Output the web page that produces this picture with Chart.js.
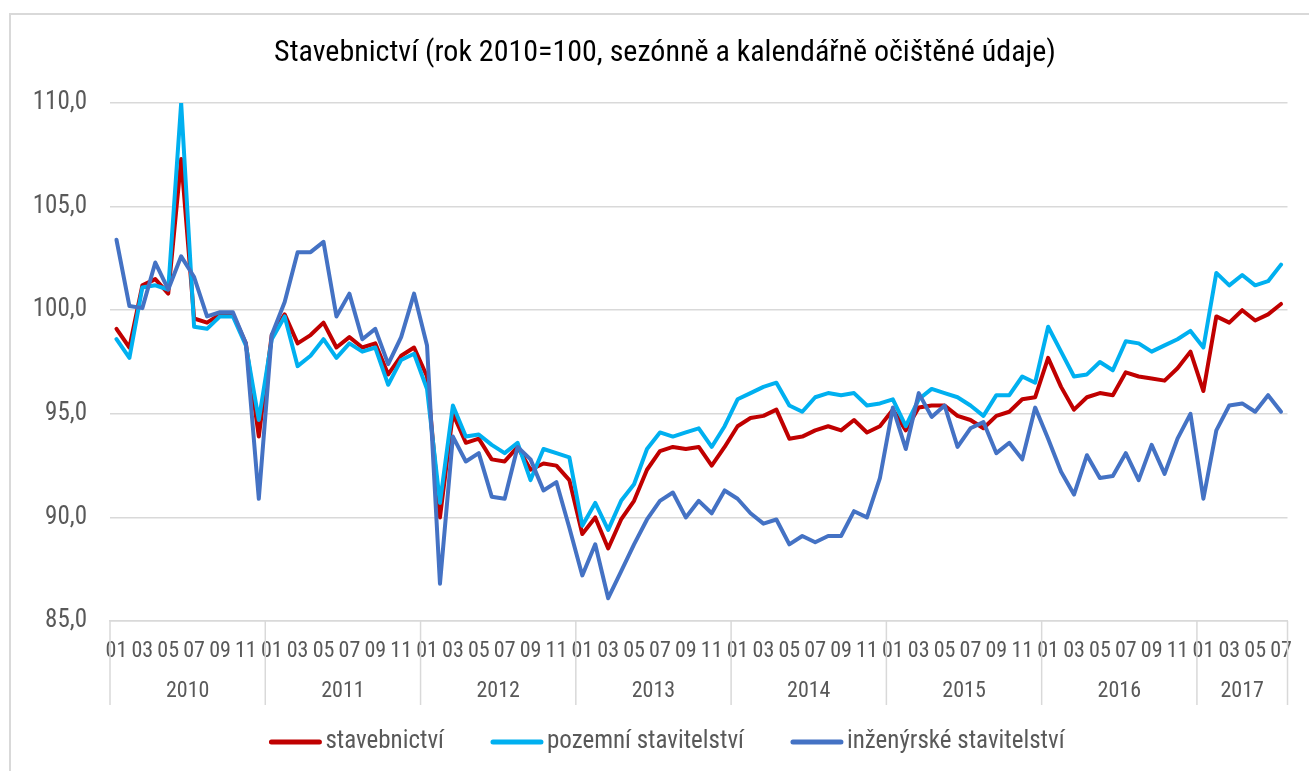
<!DOCTYPE html>
<html><head><meta charset="utf-8">
<script src="https://cdn.jsdelivr.net/npm/chart.js@4.4.1/dist/chart.umd.min.js"></script>
<style>
html,body{margin:0;padding:0;background:#fff;}
#wrap{position:relative;width:1309px;height:771px;overflow:hidden;}
#frame{position:absolute;left:9px;top:13px;width:1340px;height:820px;border:2px solid #D9D9D9;box-sizing:border-box;}
canvas{position:absolute;left:0;top:0;}
</style></head><body>
<div id="wrap"><div id="frame"></div><canvas id="c" width="1309" height="771"></canvas></div>
<script>
const titleText = 'Stavebnictví (rok 2010=100, sezónně a kalendářně očištěné údaje)';
const years = ['2010', '2011', '2012', '2013', '2014', '2015', '2016', '2017'];
const monthNames = ['01', '02', '03', '04', '05', '06', '07', '08', '09', '10', '11', '12'];
const seriesNames = ['stavebnictví', 'pozemní stavitelství', 'inženýrské stavitelství'];
const yTicks = [85, 90, 95, 100, 105, 110];

const stavebnictvi = [
  99.1, 98.2, 101.2, 101.5, 100.8, 107.3, 99.6, 99.4, 99.8, 99.8, 98.4, 93.9,
  98.8, 99.8, 98.4, 98.8, 99.4, 98.2, 98.7, 98.2, 98.4, 96.9, 97.8, 98.2,
  96.8, 90.0, 95.0, 93.6, 93.8, 92.8, 92.7, 93.4, 92.3, 92.6, 92.5, 91.8,
  89.2, 90.0, 88.5, 89.9, 90.8, 92.3, 93.2, 93.4, 93.3, 93.4, 92.5, 93.4,
  94.4, 94.8, 94.9, 95.2, 93.8, 93.9, 94.2, 94.4, 94.2, 94.7, 94.1, 94.4,
  95.2, 94.2, 95.3, 95.4, 95.4, 94.9, 94.7, 94.3, 94.9, 95.1, 95.7, 95.8,
  97.7, 96.3, 95.2, 95.8, 96.0, 95.9, 97.0, 96.8, 96.7, 96.6, 97.2, 98.0,
  96.1, 99.7, 99.4, 100.0, 99.5, 99.8, 100.3
];
const pozemni = [
  98.6, 97.7, 101.1, 101.2, 101.0, 110.0, 99.2, 99.1, 99.7, 99.7, 98.3, 94.7,
  98.6, 99.7, 97.3, 97.8, 98.6, 97.7, 98.4, 98.0, 98.2, 96.4, 97.6, 97.9,
  96.2, 90.7, 95.4, 93.9, 94.0, 93.5, 93.1, 93.6, 91.8, 93.3, 93.1, 92.9,
  89.6, 90.7, 89.4, 90.8, 91.6, 93.3, 94.1, 93.9, 94.1, 94.3, 93.4, 94.4,
  95.7, 96.0, 96.3, 96.5, 95.4, 95.1, 95.8, 96.0, 95.9, 96.0, 95.4, 95.5,
  95.7, 94.4, 95.7, 96.2, 96.0, 95.8, 95.4, 94.9, 95.9, 95.9, 96.8, 96.5,
  99.2, 98.0, 96.8, 96.9, 97.5, 97.1, 98.5, 98.4, 98.0, 98.3, 98.6, 99.0,
  98.2, 101.8, 101.2, 101.7, 101.2, 101.4, 102.2
];
const inzenyrske = [
  103.4, 100.2, 100.1, 102.3, 101.0, 102.6, 101.6, 99.7, 99.9, 99.9, 98.4, 90.9,
  98.8, 100.4, 102.8, 102.8, 103.3, 99.7, 100.8, 98.6, 99.1, 97.4, 98.7, 100.8,
  98.3, 86.8, 93.9, 92.7, 93.1, 91.0, 90.9, 93.4, 92.8, 91.3, 91.7, 89.5,
  87.2, 88.7, 86.1, 87.4, 88.7, 89.9, 90.8, 91.2, 90.0, 90.8, 90.2, 91.3,
  90.9, 90.2, 89.7, 89.9, 88.7, 89.1, 88.8, 89.1, 89.1, 90.3, 90.0, 91.9,
  95.3, 93.3, 96.0, 94.85, 95.4, 93.4, 94.3, 94.6, 93.1, 93.6, 92.8, 95.3,
  93.8, 92.2, 91.1, 93.0, 91.9, 92.0, 93.1, 91.8, 93.5, 92.1, 93.8, 95.0,
  90.9, 94.2, 95.4, 95.5, 95.1, 95.9, 95.1
];

const categories = [];
for (const y of years) for (const m of monthNames) if (categories.length < stavebnictvi.length) categories.push(m);

const FONT = "'Roboto Condensed', 'Liberation Sans', sans-serif";
const colors = ['#C00000', '#00B0F0', '#4472C4'];

const decor = {
  id: 'decor',
  afterDraw(chart) {
    const ctx = chart.ctx, xs = chart.scales.x, area = chart.chartArea;
    ctx.save();
    ctx.font = "30px " + FONT; ctx.fillStyle = '#000'; ctx.textAlign = 'center'; ctx.textBaseline = 'middle';
    ctx.fillText(titleText, 665, 53);
    const n = chart.data.labels.length;
    const half = (xs.getPixelForValue(1) - xs.getPixelForValue(0)) / 2;
    ctx.strokeStyle = '#D9D9D9'; ctx.lineWidth = 1.5;
    ctx.font = "22px " + FONT; ctx.fillStyle = '#595959';
    years.forEach((yr, k) => {
      const first = k * 12, last = Math.min(first + 11, n - 1);
      const l = xs.getPixelForValue(first) - half, r = xs.getPixelForValue(last) + half;
      ctx.beginPath(); ctx.moveTo(l, area.bottom); ctx.lineTo(l, area.bottom + 84); ctx.stroke();
      if (k === years.length - 1) { ctx.beginPath(); ctx.moveTo(r, area.bottom); ctx.lineTo(r, area.bottom + 84); ctx.stroke(); }
      ctx.fillText(yr, (l + r) / 2, area.bottom + 70);
    });
    // legend
    ctx.font = "25px " + FONT; ctx.textAlign = 'left';
    const lineLen = 52, gapText = 4, gapItem = 47;
    const items = chart.data.datasets.map(d => ({ text: d.label, color: d.borderColor, w: lineLen + gapText + ctx.measureText(d.label).width }));
    const total = items.reduce((s, it) => s + it.w, 0) + gapItem * (items.length - 1);
    let x = 667 - total / 2; const y = 742;
    ctx.lineCap = 'round';
    for (const it of items) {
      ctx.strokeStyle = it.color; ctx.lineWidth = 5;
      ctx.beginPath(); ctx.moveTo(x + 2, y); ctx.lineTo(x + lineLen - 2, y); ctx.stroke();
      ctx.fillStyle = '#595959'; ctx.fillText(it.text, x + lineLen + gapText, y);
      x += it.w + gapItem;
    }
    ctx.restore();
  }
};

const mk = (i, data) => ({
  label: seriesNames[i], data, borderColor: colors[i], backgroundColor: colors[i],
  borderWidth: 4, pointRadius: 0, tension: 0, borderJoinStyle: 'round', borderCapStyle: 'round', order: 3 - i
});

new Chart(document.getElementById('c'), {
  type: 'line',
  data: { labels: categories, datasets: [mk(0, stavebnictvi), mk(1, pozemni), mk(2, inzenyrske)] },
  options: {
    responsive: false, animation: false, devicePixelRatio: 1,
    layout: { padding: { top: 103, right: 19, bottom: 0, left: 0 } },
    plugins: { legend: { display: false }, title: { display: false }, tooltip: { enabled: false } },
    scales: {
      x: {
        type: 'category', offset: true,
        grid: { display: false, drawTicks: false },
        border: { display: true, color: '#D9D9D9', width: 1.5 },
        ticks: { autoSkip: false, maxRotation: 0, minRotation: 0, padding: 17, color: '#595959', font: { family: FONT, size: 22 },
          callback: (v, i) => (i % 2 === 0 ? categories[i] : '') },
        afterFit: s => { s.height = 150; }
      },
      y: {
        min: 85, max: 110,
        afterBuildTicks: s => { s.ticks = yTicks.map(v => ({ value: v })); },
        grid: { color: '#D9D9D9', lineWidth: 1.5, drawTicks: false },
        border: { display: false },
        ticks: { padding: 23, color: '#595959', font: { family: FONT, size: 25 }, callback: v => v.toFixed(1).replace('.', ',') },
        afterFit: s => { s.width = 110; }
      }
    }
  },
  plugins: [decor]
});
</script>
</body></html>
